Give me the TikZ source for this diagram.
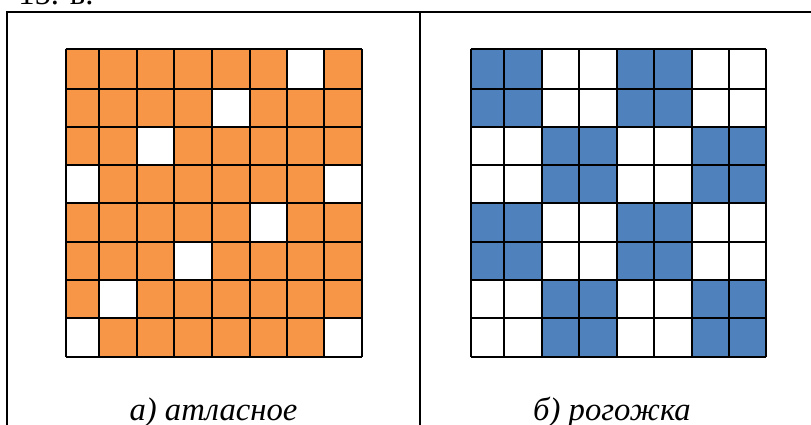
\documentclass[tikz,border=0pt]{standalone}
\usepackage{fontspec}
\setmainfont{Liberation Serif}
\definecolor{weaveorange}{HTML}{F79646}
\definecolor{weaveblue}{HTML}{4F81BD}
\begin{document}
\begin{tikzpicture}[x=0.75pt,y=-0.75pt,
  frameline/.style={line width=1.6pt},
  gridline/.style={line width=1.35pt},
  caption/.style={font=\fontsize{24.5pt}{28pt}\selectfont\itshape, anchor=base, inner sep=0pt}]
\useasboundingbox (0,0) rectangle (811,425);
% column and row coordinates
\foreach \x [count=\i from 0] in {65.7,99,136.7,174.3,212,249.7,287,324.3,361.7}
  \coordinate (L\i) at (\x,0);
\foreach \x [count=\i from 0] in {470.7,504,541.7,579.3,616.7,654,691.7,728.7,766}
  \coordinate (R\i) at (\x,0);
\foreach \y [count=\i from 0] in {49.3,88.7,126.7,165,203.3,241.7,280,318.3,356.7}
  \coordinate (Y\i) at (0,\y);
% left grid (atlas)
\fill[weaveorange] (L0 |- Y0) rectangle (L8 |- Y8);
\foreach \c/\r in {6/0,4/1,2/2,0/3,7/3,5/4,3/5,1/6,0/7,7/7}{
  \pgfmathtruncatemacro\cn{\c+1}\pgfmathtruncatemacro\rn{\r+1}
  \fill[white] (L\c |- Y\r) rectangle (L\cn |- Y\rn);
}
\foreach \i in {0,...,8}{
  \draw[gridline] (L\i |- Y0) -- (L\i |- Y8);
  \draw[gridline] (L0 |- Y\i) -- (L8 |- Y\i);
}
% right grid (rogozhka)
\foreach \r in {0,...,7}{
  \foreach \c in {0,...,7}{
    \pgfmathtruncatemacro\rr{mod(floor(\r/2),2)}
    \pgfmathtruncatemacro\cc{mod(floor(\c/2),2)}
    \pgfmathtruncatemacro\cn{\c+1}\pgfmathtruncatemacro\rn{\r+1}
    \ifnum\rr=\cc
      \fill[weaveblue] (R\c |- Y\r) rectangle (R\cn |- Y\rn);
    \fi
  }
}
\foreach \i in {0,...,8}{
  \draw[gridline] (R\i |- Y0) -- (R\i |- Y8);
  \draw[gridline] (R0 |- Y\i) -- (R8 |- Y\i);
}
% frame
\coordinate (ftl) at (7,12);
\coordinate (ftr) at (811,12);
\coordinate (fbl) at (7,425);
\coordinate (dtop) at (420,12);
\coordinate (dbot) at (420,425);
\draw[frameline] (fbl) -- (ftl) -- (ftr);
\draw[frameline] (dtop) -- (dbot);
% texts
\node[anchor=base west, inner sep=0pt, font=\fontsize{24.5pt}{28pt}\selectfont] (head) at (18,4) {15. в.};
\node[caption] (capa) at (213.5,420) {а) атласное};
\node[caption] (capb) at (612,420) {б) рогожка};
\end{tikzpicture}
\end{document}
